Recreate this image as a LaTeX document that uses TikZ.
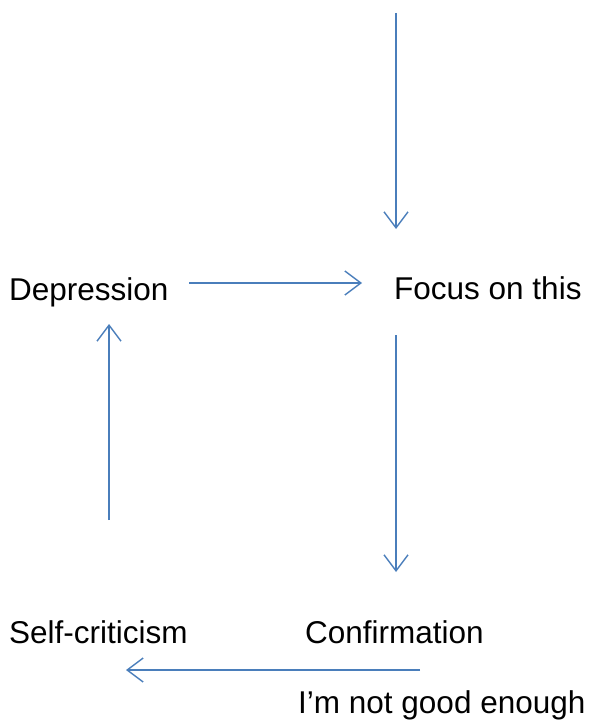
\documentclass[tikz,border=0pt]{standalone}
\usepackage{fontspec}
\setmainfont{Liberation Sans}
\usetikzlibrary{arrows.meta}
\definecolor{linkblue}{HTML}{4A7EBB}
\tikzset{
  lbl/.style={anchor=base west, inner sep=0pt, font=\fontsize{31.5}{36}\selectfont},
  link/.style={draw=linkblue, line width=1.4pt, -{Straight Barb[length=16pt,width=24pt,line width=1.4pt]}}
}
\begin{document}
\begin{tikzpicture}[x=1pt,y=-1pt]
\useasboundingbox (0,0) rectangle (590,722);
\node[lbl] (dep) at (9,300) {Depression};
\node[lbl] (focus) at (394,299) {Focus on this};
\node[lbl] (self) at (9,643) {Self-criticism};
\node[lbl] (conf) at (305,643) {Confirmation};
\node[lbl] (good) at (298,713) {I’m not good enough};
\coordinate (t1s) at (396,13);
\coordinate (t1e) at (396,229);
\coordinate (r1s) at (189,283);
\coordinate (r1e) at (362,283);
\coordinate (d2s) at (396,335);
\coordinate (d2e) at (396,572);
\coordinate (u1s) at (109,520);
\coordinate (u1e) at (109,324);
\coordinate (l1s) at (420,670);
\coordinate (l1e) at (126,670);
\draw[link] (t1s) -- (t1e);
\draw[link] (r1s) -- (r1e);
\draw[link] (d2s) -- (d2e);
\draw[link] (u1s) -- (u1e);
\draw[link] (l1s) -- (l1e);
\end{tikzpicture}
\end{document}
